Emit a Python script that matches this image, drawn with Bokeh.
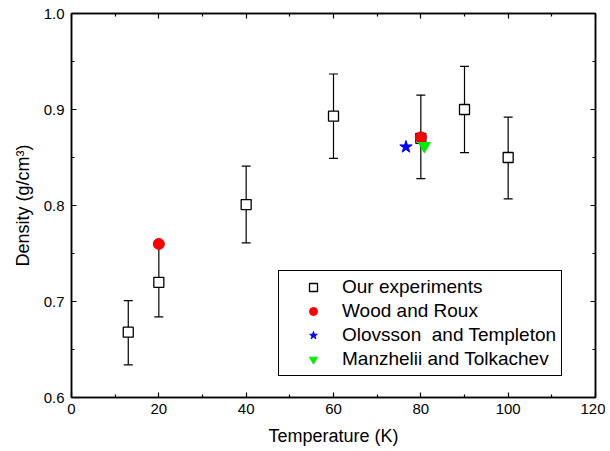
from bokeh.plotting import figure
from bokeh.models import (ColumnDataSource, Whisker, LinearAxis, FixedTicker,
                          PrintfTickFormatter, Legend, LegendItem, Range1d, TeeHead)
from bokeh.embed import file_html
from bokeh.resources import INLINE

# Data
exp_T = [13, 20, 40, 60, 80, 90, 100]
exp_rho = [0.668, 0.720, 0.801, 0.893, 0.870, 0.900, 0.850]
exp_lo = [0.634, 0.684, 0.761, 0.849, 0.828, 0.855, 0.807]
exp_hi = [0.701, 0.757, 0.841, 0.937, 0.915, 0.945, 0.892]

wood_T = [20, 80]
wood_rho = [0.760, 0.871]

olov_T = [76.6]
olov_rho = [0.861]

manz_T = [80.8]
manz_rho = [0.862]

x_ticks = [0, 20, 40, 60, 80, 100, 120]
x_minor = [10, 30, 50, 70, 90, 110]
y_ticks = [0.6, 0.7, 0.8, 0.9, 1.0]
y_minor = [0.65, 0.75, 0.85, 0.95]

FONT = "Liberation Sans"

p = figure(width=605, height=451, output_backend="svg", toolbar_location=None,
           x_range=Range1d(0, 120), y_range=Range1d(0.6, 1.0),
           min_border_left=71, min_border_right=10, min_border_top=13, min_border_bottom=54)
p.xgrid.visible = False
p.ygrid.visible = False
p.outline_line_color = "black"
p.outline_line_width = 1.5

def style_axis(ax, labels=True):
    ax.axis_line_color = "black"
    ax.axis_line_width = 1.5
    ax.major_tick_in = 5
    ax.major_tick_out = 0
    ax.minor_tick_in = 3
    ax.minor_tick_out = 0
    ax.major_tick_line_color = "black"
    ax.minor_tick_line_color = "black"
    ax.major_tick_line_width = 1.2
    ax.minor_tick_line_width = 1.2
    ax.major_label_text_font = FONT
    ax.major_label_text_font_size = "15px"
    ax.major_label_text_color = "black"
    ax.axis_label_text_font = FONT
    ax.axis_label_text_font_size = "18px"
    ax.axis_label_text_font_style = "normal"
    ax.axis_label_text_color = "black"
    if not labels:
        ax.major_label_text_font_size = "0px"
        ax.major_label_text_alpha = 0

xt = FixedTicker(ticks=x_ticks, minor_ticks=x_minor)
yt = FixedTicker(ticks=y_ticks, minor_ticks=y_minor)

p.xaxis.ticker = xt
p.yaxis.ticker = yt
p.yaxis.formatter = PrintfTickFormatter(format="%.1f")
p.xaxis.axis_label = "Temperature (K)"
p.yaxis.axis_label = "Density (g/cm³)"
style_axis(p.xaxis[0])
style_axis(p.yaxis[0])
p.xaxis.major_label_standoff = 6
p.yaxis.major_label_standoff = 7
p.xaxis.axis_label_standoff = 9
p.yaxis.axis_label_standoff = 8

top = LinearAxis(ticker=FixedTicker(ticks=x_ticks, minor_ticks=x_minor))
style_axis(top, labels=False)
right = LinearAxis(ticker=FixedTicker(ticks=y_ticks, minor_ticks=y_minor))
style_axis(right, labels=False)
p.add_layout(top, "above")
p.add_layout(right, "right")

src = ColumnDataSource(dict(x=exp_T, y=exp_rho, lo=exp_lo, hi=exp_hi))
w = Whisker(source=src, base="x", lower="lo", upper="hi", line_color="black", line_width=1.2,
            upper_head=TeeHead(size=9, line_color="black", line_width=1.2),
            lower_head=TeeHead(size=9, line_color="black", line_width=1.2))
p.add_layout(w)

r_exp = p.scatter("x", "y", source=src, marker="square", size=10, fill_color="white",
                  line_color="black", line_width=1.3)
r_wood = p.scatter(wood_T, wood_rho, marker="circle", size=11, fill_color="#ff0000", line_color="#ff0000")
r_olov = p.scatter(olov_T, olov_rho, marker="star", size=13, fill_color="#0000ff", line_color="#0000ff")
r_manz = p.scatter(manz_T, manz_rho, marker="inverted_triangle", size=12, fill_color="#00ee00",
                   line_color="#00ee00")

legend = Legend(items=[
    LegendItem(label="Our experiments", renderers=[r_exp]),
    LegendItem(label="Wood and Roux", renderers=[r_wood]),
    LegendItem(label="Olovsson  and Templeton", renderers=[r_olov]),
    LegendItem(label="Manzhelii and Tolkachev", renderers=[r_manz]),
], location=(207, 21))
legend.label_text_font = FONT
legend.label_text_font_size = "19px"
legend.label_text_color = "black"
legend.border_line_color = "black"
legend.border_line_alpha = 1
legend.border_line_width = 1.2
legend.background_fill_alpha = 1
legend.padding = 5
legend.margin = 0
legend.spacing = 2
legend.glyph_width = 58
legend.glyph_height = 20
legend.label_height = 20
legend.label_standoff = 0
p.add_layout(legend, "center")

open("out.html", "w").write(file_html(p, INLINE))
